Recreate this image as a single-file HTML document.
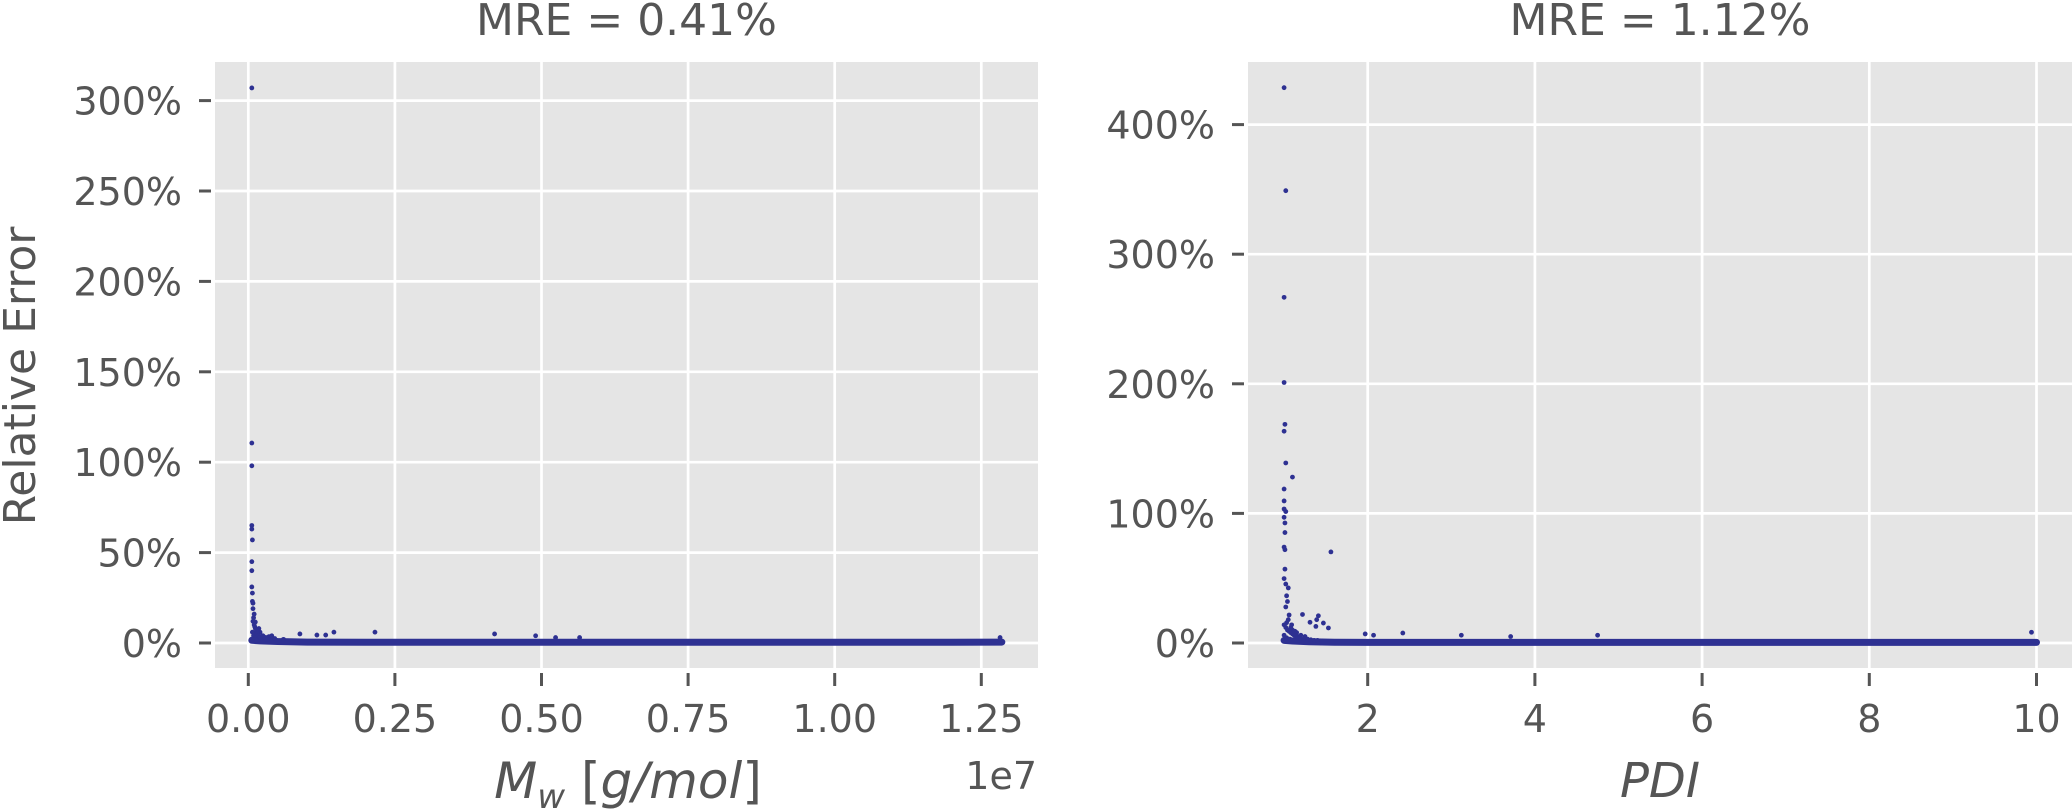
<!DOCTYPE html>
<html><head><meta charset="utf-8"><style>
html,body{margin:0;padding:0;background:#fff;}
svg{display:block;font-family:"DejaVu Sans","Liberation Sans",sans-serif;}
</style></head><body>
<svg id="fig" width="2072" height="811" viewBox="0 0 2072 811" xmlns="http://www.w3.org/2000/svg">
<g id="left"></g>
<g id="right"></g>
</svg>
<script>
// ---- Left panel data (Mw in 1e7 g/mol, relative error %) ----
const mwTicks = [0, 0.25, 0.5, 0.75, 1.0, 1.25];
const mwTickLabels = ["0.00", "0.25", "0.50", "0.75", "1.00", "1.25"];
const mwYTicks = [0, 50, 100, 150, 200, 250, 300];
const mwYTickLabels = ["0%", "50%", "100%", "150%", "200%", "250%", "300%"];
const mwX = [0.006,0.006,0.006,0.006,0.006,0.007,0.006,0.006,0.006,0.007,0.007,0.008,0.008,0.010,0.009,0.012,0.011,0.013,0.015,0.018,0.020,0.025,0.030,0.035,0.045,0.060,0.088,0.117,0.132,0.146,0.216,0.42,0.49,0.524,0.565,1.282,
  0.008,0.010,0.012,0.014,0.016,0.009,0.011,0.013,0.015,0.017,0.019,0.022,0.024,0.028,0.032,0.038,0.040,0.007,0.009,0.012,0.014];
const mwY = [307,110.6,98,65,63,57,45,40,31,27.6,23,22,19,16,14,11.6,9,5.5,3.3,8,6,4,3,3.5,2.5,2,5,4.4,4.4,6,6,5,4,3,3,3,
  12,10,8,7,6,4,5,3,5,4,3,2.5,4,3,2,3.5,4,6,2,2,1.5];
const mwBandX = [0.006,0.02,0.05,0.1,0.2,0.3,0.4,0.5,0.6,0.7,0.8,0.9,1.0,1.1,1.2,1.285];
const mwBandY = [1.5,1.2,0.8,0.5,0.4,0.4,0.4,0.4,0.4,0.4,0.4,0.4,0.4,0.4,0.4,0.5];

// ---- Right panel data (PDI, relative error %) ----
const pdiTicks = [2, 4, 6, 8, 10];
const pdiTickLabels = ["2", "4", "6", "8", "10"];
const pdiYTicks = [0, 100, 200, 300, 400];
const pdiYTickLabels = ["0%", "100%", "200%", "300%", "400%"];
const pdiX = [1.0,1.02,1.0,1.0,1.01,1.0,1.02,1.1,1.0,1.0,1.0,1.02,1.0,1.01,1.01,1.0,1.01,1.56,1.01,1.0,1.02,1.05,1.03,1.04,1.02,1.06,1.03,1.22,1.41,1.39,1.47,1.53,1.31,1.38,1.97,2.07,2.42,3.12,3.71,4.75,9.94,1.1,1.15,1.2,1.25,1.08,
  1.0,1.02,1.04,1.06,1.08,1.1,1.12,1.14,1.16,1.18,1.2,1.24,1.28,1.32,1.36,1.4,1.05,1.09,1.13,1.0,1.03,1.07];
const pdiY = [428.5,349,266.7,201,168.7,163.4,138.9,128,118.8,109.6,103.4,101.4,97,92.6,85.2,74,72,70.3,57,49.7,45.5,42.5,36.4,32,27.8,21.6,15.7,22,21,18,15.4,11.6,16,12.8,7,6,7.7,6,5,6,8.3,10,8,6,5,12,
  14,12,10,9,8,7,6,5.5,5,4,3.5,3,3,2.5,2,2,18,14,9,6,4,3];
const pdiBandX = [1.0,1.1,1.3,1.6,2,3,4,5,6,7,8,9,10];
const pdiBandY = [2,1.5,1,0.6,0.5,0.5,0.5,0.5,0.5,0.5,0.5,0.5,0.5];

const NS = "http://www.w3.org/2000/svg";
const TXT = "#555555", PT = "#2E3192", BG = "#E5E5E5";
function mk(tag, attrs, parent){ const e=document.createElementNS(NS,tag); for(const k in attrs) e.setAttribute(k,attrs[k]); parent.appendChild(e); return e; }

function panel(g, o){
  const sx = v => o.x0 + (v - o.xa) * o.kx;
  const sy = v => o.y0 - v * o.ky;
  const bg = mk("rect",{x:o.L,y:o.T,width:o.R-o.L,height:o.B-o.T,fill:BG},g);
  
  
  o.yt.forEach((v,i)=>{
    const y=sy(v);
    const gl=mk("line",{x1:o.L,x2:o.R,y1:y,y2:y,stroke:"#fff","stroke-width":2.7},g);
    
    
    const tk=mk("line",{x1:o.L-16,x2:o.L-4,y1:y,y2:y,stroke:TXT,"stroke-width":3},g);
    
    
    const t=mk("text",{x:o.L-33,y:y+14,"text-anchor":"end","font-size":38,fill:TXT},g);
    t.textContent=o.ytl[i];
    
    
  });
  o.xt.forEach((v,i)=>{
    const x=sx(v);
    const gl=mk("line",{x1:x,x2:x,y1:o.T,y2:o.B,stroke:"#fff","stroke-width":2.7},g);
    
    
    const tk=mk("line",{x1:x,x2:x,y1:o.B+5,y2:o.B+18,stroke:TXT,"stroke-width":3},g);
    
    
    const t=mk("text",{x:x,y:732,"text-anchor":"middle","font-size":38,fill:TXT},g);
    t.textContent=o.xtl[i];
    
    
  });
  const pts = o.bx.map((v,i)=>sx(v)+","+sy(o.by[i])).join(" ");
  const band=mk("polyline",{points:pts,fill:"none",stroke:PT,"stroke-width":7,"stroke-linejoin":"round","stroke-linecap":"round"},g);
  
  
  o.px.forEach((v,i)=>{
    const c=mk("circle",{cx:sx(v),cy:sy(o.py[i]),r:2.4,fill:PT},g);
    
    
  });
  const ttl=mk("text",{x:(o.L+o.R)/2,y:35,"text-anchor":"middle","font-size":44,fill:TXT},g);
  ttl.textContent=o.title;
  
  
}

panel(document.getElementById("left"),{L:215,R:1038,T:62,B:668,xa:0,x0:248.3,kx:586.4,y0:643,ky:1.808,
  xt:mwTicks,xtl:mwTickLabels,yt:mwYTicks,ytl:mwYTickLabels,px:mwX,py:mwY,bx:mwBandX,by:mwBandY,title:"MRE = 0.41%"});
panel(document.getElementById("right"),{L:1248,R:2072,T:62,B:668,xa:2,x0:1367.7,kx:83.6,y0:643,ky:1.296,
  xt:pdiTicks,xtl:pdiTickLabels,yt:pdiYTicks,ytl:pdiYTickLabels,px:pdiX,py:pdiY,bx:pdiBandX,by:pdiBandY,title:"MRE = 1.12%"});

const svg=document.getElementById("fig");
const yl=mk("text",{x:0,y:0,transform:"translate(35,376) rotate(-90)","text-anchor":"middle","font-size":44,fill:TXT},svg);
yl.textContent="Relative Error";


const xl1=mk("text",{x:628,y:798,"text-anchor":"middle","font-size":50,"font-style":"italic",fill:TXT},svg);
xl1.innerHTML='M<tspan font-size="34" dy="10">w</tspan><tspan dy="-10"> </tspan><tspan font-style="normal">[</tspan>g/mol<tspan font-style="normal">]</tspan>';


const off=mk("text",{x:1037,y:789,"text-anchor":"end","font-size":38,fill:TXT},svg);
off.textContent="1e7";


const xl2=mk("text",{x:1660,y:797,"text-anchor":"middle","font-size":48,"font-style":"italic",fill:TXT},svg);
xl2.textContent="PDI";


</script>
</body></html>
